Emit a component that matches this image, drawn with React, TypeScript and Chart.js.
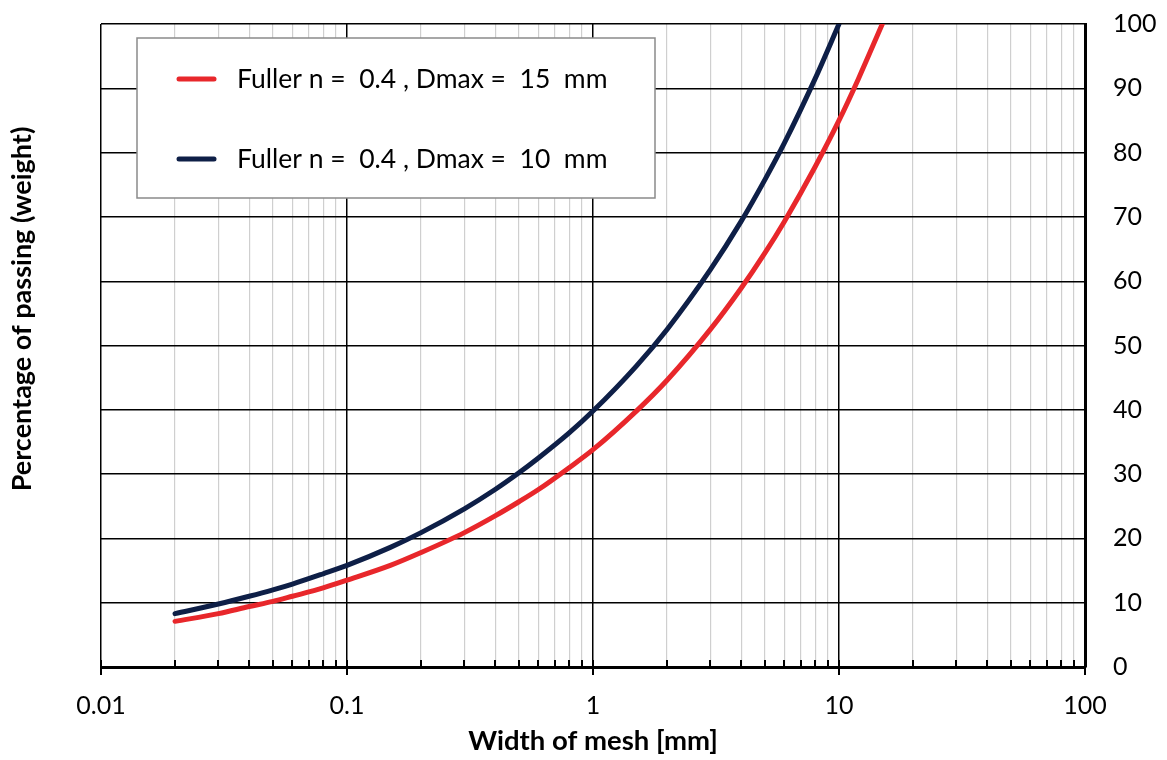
import React, { useEffect, useRef } from "react";
import { Chart, registerables } from "chart.js";

Chart.register(...registerables);

const meshSizes = [0.02, 0.03, 0.04, 0.05, 0.06, 0.08, 0.1, 0.15, 0.2, 0.3, 0.4, 0.5, 0.6, 0.8, 1, 1.5, 2, 3, 4, 5, 6, 8, 10, 12, 15];
const passing15 = [7.1, 8.3, 9.4, 10.2, 11.0, 12.3, 13.5, 15.8, 17.8, 20.9, 23.5, 25.7, 27.6, 31.0, 33.8, 39.8, 44.6, 52.5, 58.9, 64.4, 69.3, 77.8, 85.0, 91.5, 100];
const passing10 = [8.3, 9.8, 11.0, 12.0, 12.9, 14.5, 15.8, 18.6, 20.9, 24.6, 27.6, 30.2, 32.5, 36.4, 39.8, 46.8, 52.5, 61.8, 69.3, 75.8, 81.5, 91.5, 100];

const seriesLabels = ["Fuller n =  0.4 , Dmax =  15  mm", "Fuller n =  0.4 , Dmax =  10  mm"];
const xTickValues = [
  0.01, 0.02, 0.03, 0.04, 0.05, 0.06, 0.07, 0.08, 0.09,
  0.1, 0.2, 0.3, 0.4, 0.5, 0.6, 0.7, 0.8, 0.9,
  1, 2, 3, 4, 5, 6, 7, 8, 9,
  10, 20, 30, 40, 50, 60, 70, 80, 90, 100,
];
const xDecadeLabels = ["0.01", "0.1", "1", "10", "100"];
const xTitle = "Width of mesh [mm]";
const yTitle = "Percentage of passing (weight)";

const RED = "#e8272b";
const NAVY = "#0e1f47";
const FONT = "Lato, 'Open Sans', sans-serif";
const FS = 25;

const isDecade = (v: number) => {
  const l = Math.log10(v);
  return Math.abs(l - Math.round(l)) < 1e-6;
};

const overlayPlugin = {
  id: "overlay",
  afterDatasetsDraw(chart: any) {
    const { ctx, chartArea, scales } = chart;
    const xs = scales.x;
    ctx.save();
    // tick marks on x axis
    ctx.strokeStyle = "#000";
    ctx.lineWidth = 2;
    xTickValues.forEach((v) => {
      const px = Math.round(xs.getPixelForValue(v));
      ctx.beginPath();
      if (isDecade(v)) {
        ctx.moveTo(px, chartArea.bottom - 7);
        ctx.lineTo(px, chartArea.bottom + 8);
      } else {
        ctx.moveTo(px, chartArea.bottom - 7);
        ctx.lineTo(px, chartArea.bottom);
      }
      ctx.stroke();
    });
    // legend box
    const bx = 137, by = 38, bw = 518, bh = 160;
    ctx.fillStyle = "#fff";
    ctx.fillRect(bx, by, bw, bh);
    ctx.strokeStyle = "#8a8a8a";
    ctx.lineWidth = 1.5;
    ctx.strokeRect(bx, by, bw, bh);
    const rows = [
      { y: 79, color: RED, text: seriesLabels[0] },
      { y: 159, color: NAVY, text: seriesLabels[1] },
    ];
    ctx.lineCap = "round";
    ctx.font = `26.5px ${FONT}`;
    ctx.textBaseline = "middle";
    ctx.textAlign = "left";
    rows.forEach((r) => {
      ctx.strokeStyle = r.color;
      ctx.lineWidth = 5;
      ctx.beginPath();
      ctx.moveTo(179, r.y);
      ctx.lineTo(214, r.y);
      ctx.stroke();
      ctx.fillStyle = "#000";
      ctx.fillText(r.text, 237, r.y);
    });
    // axis titles
    ctx.font = `bold 27.5px ${FONT}`;
    ctx.fillStyle = "#000";
    ctx.textAlign = "center";
    ctx.fillText(xTitle, 593, 741);
    ctx.font = `bold 27px ${FONT}`;
    ctx.translate(22, 309);
    ctx.rotate(-Math.PI / 2);
    ctx.fillText(yTitle, 0, 0);
    ctx.restore();
  },
};

export default function App() {
  const ref = useRef<HTMLCanvasElement>(null);
  useEffect(() => {
    document.body.style.margin = "0";
    const chart = new Chart(ref.current!, {
      type: "line",
      data: {
        datasets: [
          {
            label: seriesLabels[0],
            data: passing15.map((y, i) => ({ x: meshSizes[i], y })),
            borderColor: RED,
            backgroundColor: RED,
            borderWidth: 5,
            pointRadius: 0,
            cubicInterpolationMode: "monotone",
            borderCapStyle: "round",
            order: 2,
          },
          {
            label: seriesLabels[1],
            data: passing10.map((y, i) => ({ x: meshSizes[i], y })),
            borderColor: NAVY,
            backgroundColor: NAVY,
            borderWidth: 5,
            pointRadius: 0,
            cubicInterpolationMode: "monotone",
            borderCapStyle: "round",
            order: 1,
          },
        ],
      },
      options: {
        responsive: false,
        animation: false,
        devicePixelRatio: 1,
        layout: { padding: { left: 101, top: 24, right: 0, bottom: 0 } },
        plugins: { legend: { display: false }, tooltip: { enabled: false } },
        scales: {
          x: {
            type: "logarithmic",
            position: "bottom",
            min: 0.01,
            max: 100,
            afterBuildTicks: (scale: any) => {
              scale.ticks = xTickValues.map((v) => ({ value: v }));
            },
            afterFit: (scale: any) => {
              scale.height = 93;
            },
            ticks: {
              autoSkip: false,
              maxRotation: 0,
              padding: 24,
              color: "#000",
              font: { family: FONT, size: FS },
              callback: (v: any) => {
                const i = [0.01, 0.1, 1, 10, 100].findIndex((d) => Math.abs(d - Number(v)) < 1e-9);
                return i >= 0 ? xDecadeLabels[i] : "";
              },
            },
            grid: {
              drawTicks: false,
              color: (c: any) => (c.tick && isDecade(c.tick.value) ? "#000" : "#cfcfcf"),
              lineWidth: (c: any) => (c.tick && isDecade(c.tick.value) ? 1.5 : 1.2),
            },
            border: { display: true, color: "#000", width: 3 },
          },
          y: {
            type: "linear",
            position: "right",
            min: 0,
            max: 100,
            afterFit: (scale: any) => {
              scale.width = 82;
            },
            ticks: {
              stepSize: 10,
              padding: 0,
              color: "#000",
              font: { family: FONT, size: FS },
            },
            grid: {
              drawTicks: true,
              tickLength: 28,
              tickColor: "rgba(0,0,0,0)",
              color: "#000",
              lineWidth: 1.4,
            },
            border: { display: true, color: "#000", width: 3 },
          },
        },
      },
      plugins: [overlayPlugin],
    } as any);
    return () => chart.destroy();
  }, []);
  return (
    <div style={{ position: "fixed", left: 0, top: 0, width: 1167, height: 760, background: "#fff" }}>
      <canvas ref={ref} width={1167} height={760} style={{ width: 1167, height: 760, display: "block" }} />
    </div>
  );
}
